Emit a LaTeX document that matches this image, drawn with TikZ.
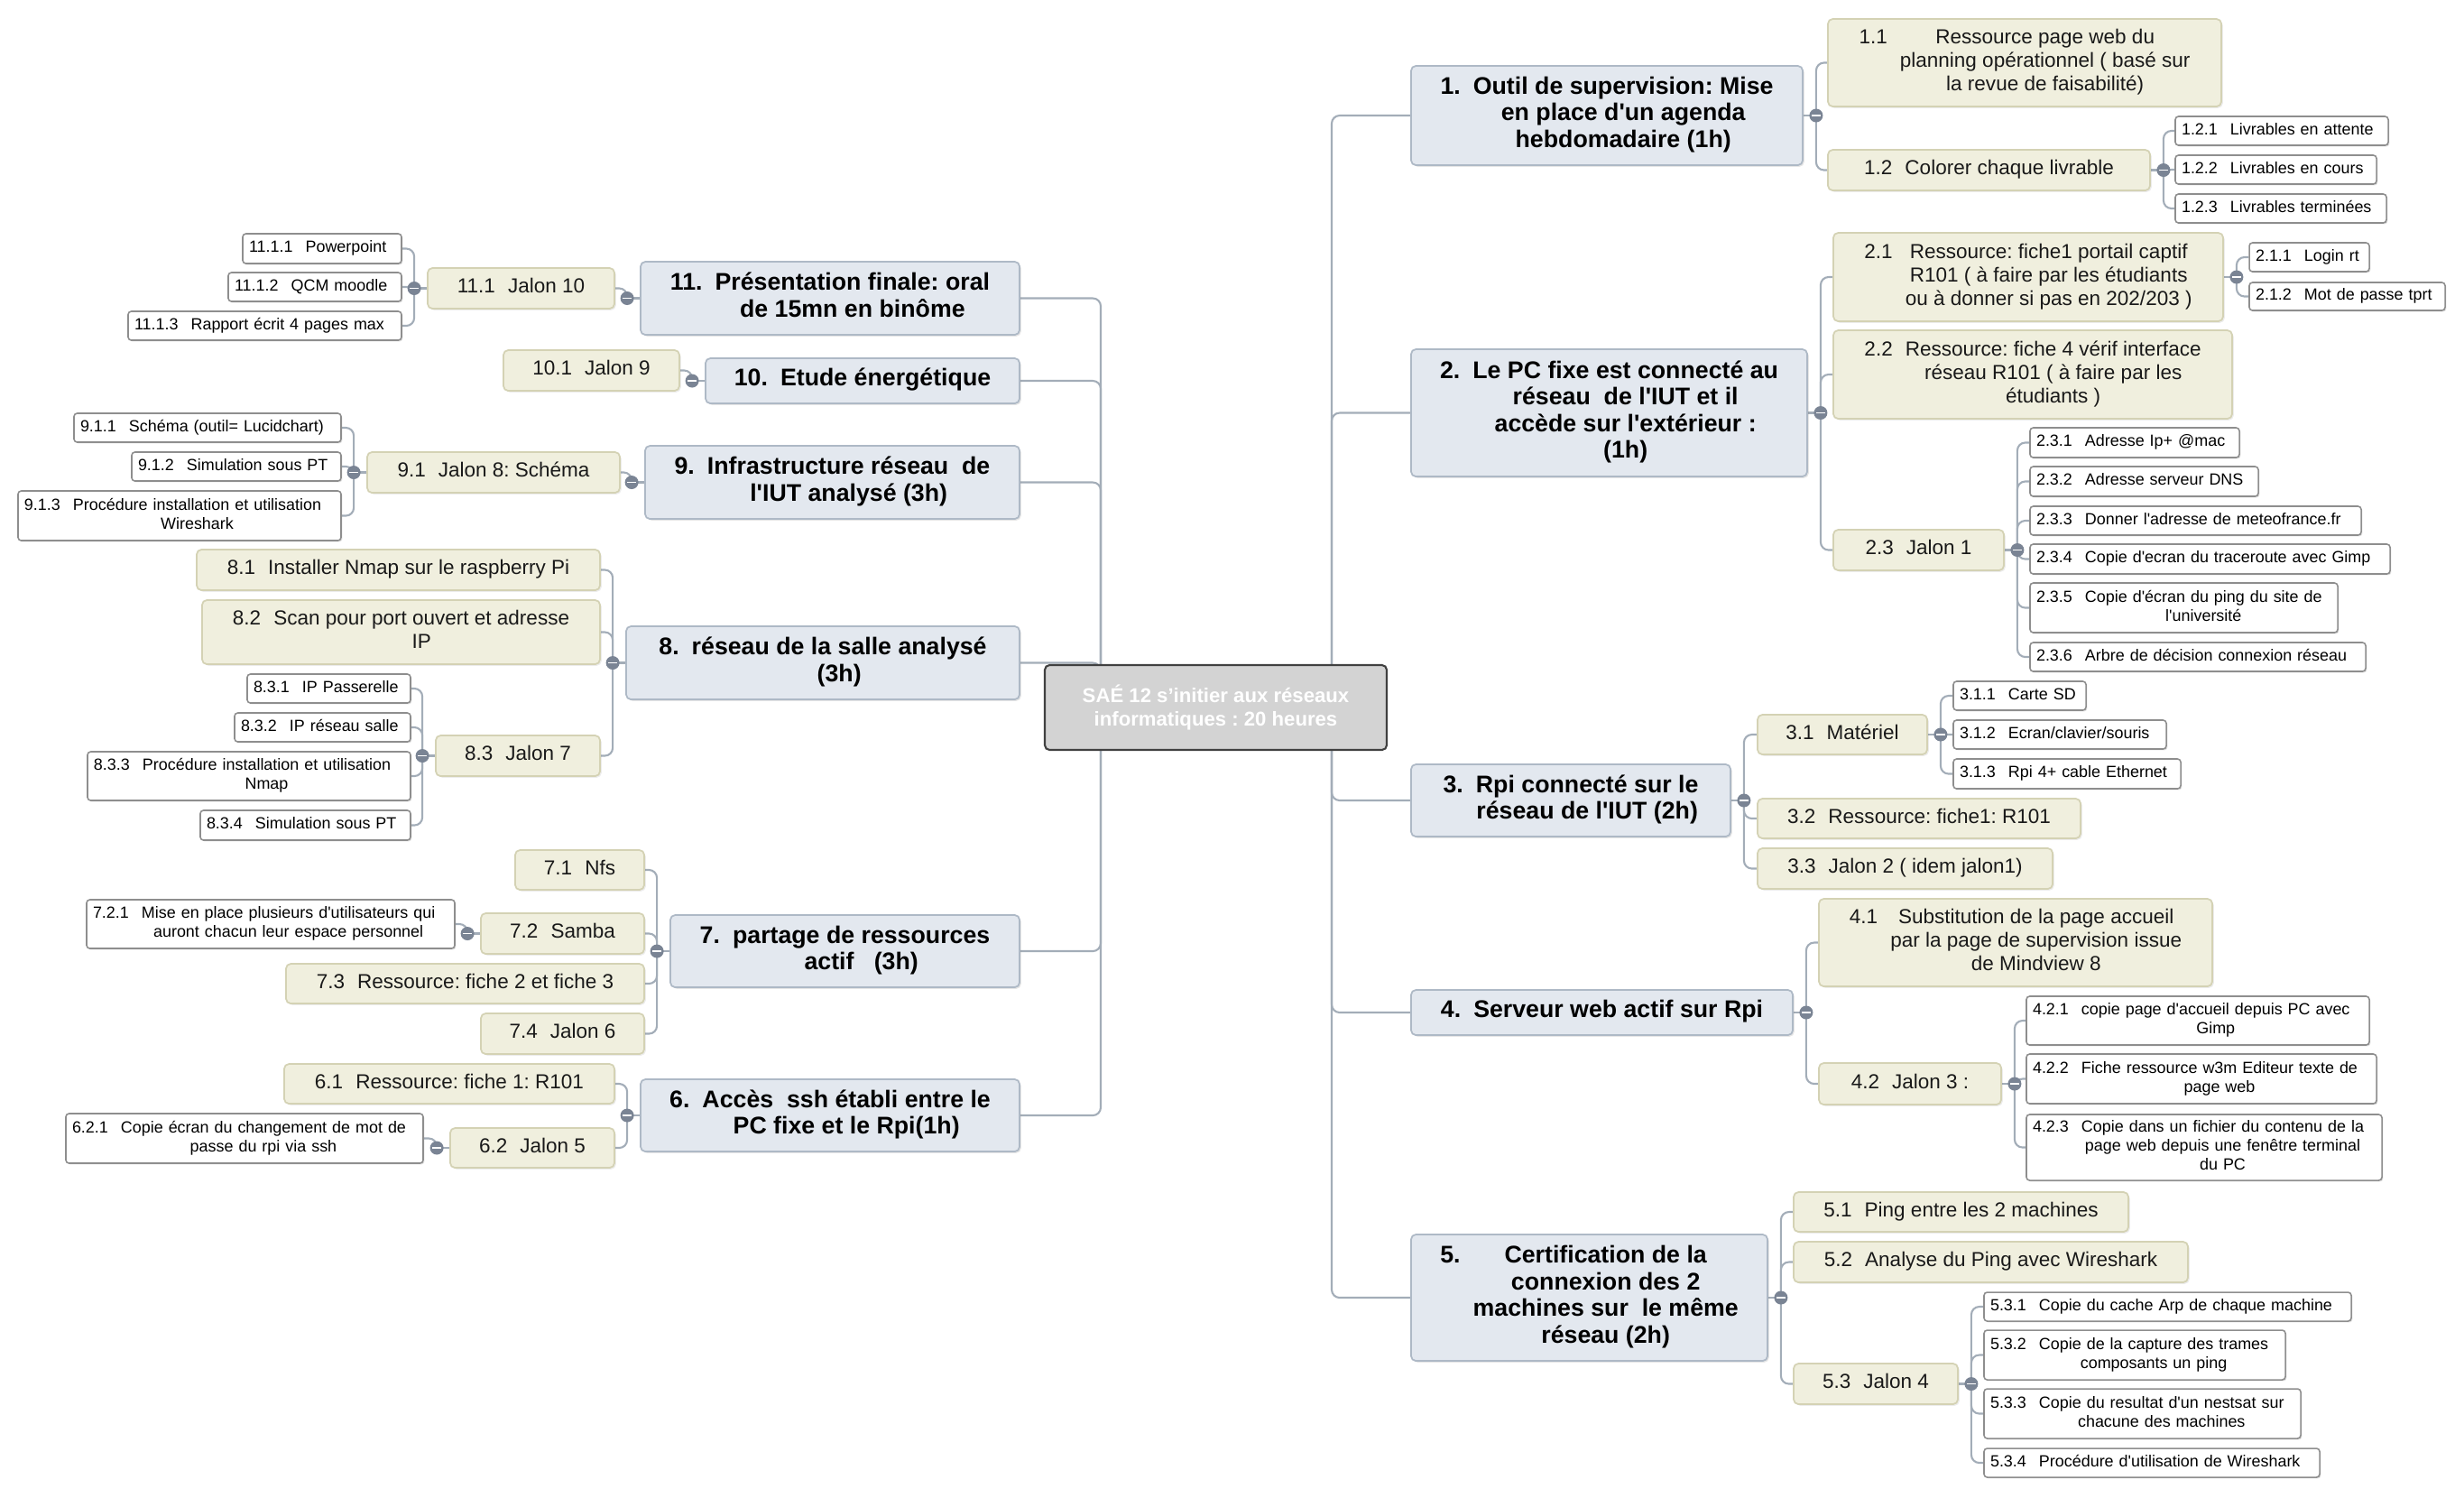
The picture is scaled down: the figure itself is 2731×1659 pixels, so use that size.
\documentclass[tikz,border=0pt]{standalone}
\usepackage{fontspec}
\setmainfont{Liberation Sans}[Ligatures=TeXOff]
\usetikzlibrary{shadows}
\definecolor{mainfill}{HTML}{E3E8EF}
\definecolor{mainborder}{HTML}{AEB9C6}
\definecolor{ltwofill}{HTML}{F0EFDE}
\definecolor{ltwoborder}{HTML}{D4D2B4}
\definecolor{lthreeborder}{HTML}{8E8E8E}
\definecolor{centerfill}{HTML}{D3D3D3}
\definecolor{centerborder}{HTML}{404040}
\definecolor{connc}{HTML}{A3ADB8}
\definecolor{collgray}{HTML}{7A8494}
\pgfdeclarelayer{bg}\pgfsetlayers{bg,main}
\frenchspacing
\newcommand\mmnum[2]{\mbox{\begin{tabular}[t]{@{}l@{}}#1\end{tabular}\kern4pt\begin{tabular}[t]{@{}c@{}}#2\end{tabular}}}
\newcommand\mmbox[7]{%
  \pgfmathsetmacro\bxw{(#5-#3)*0.01}%
  \pgfmathsetmacro\bxtw{(#5-#3)*0.01-0.14}%
  \pgfmathsetmacro\bxh{(#6-#4)*0.01}%
  \pgfmathsetmacro\bxcx{(#3+#5)/2}%
  \pgfmathsetmacro\bxcy{(#4+#6)/2}%
  \node[#1, minimum width=\bxw cm, minimum height=\bxh cm] (#2) at (\bxcx,\bxcy) {#7};}
\newcommand\fmain{\fontsize{7.6}{8.4}\selectfont\bfseries\frenchspacing}
\newcommand\ftwo{\fontsize{6.4}{7.4}\selectfont\frenchspacing}
\newcommand\fthree{\fontsize{5.1}{6.0}\selectfont\frenchspacing}
\newcommand\fcenter{\fontsize{6.3}{7.6}\selectfont\bfseries\frenchspacing}
\begin{document}
\begin{tikzpicture}[x=0.01cm,y=-0.01cm,
  mmmain/.style={draw=mainborder, fill=mainfill, line width=0.5pt, rounded corners=1.5pt, inner sep=0pt, font=\fmain, align=center,
     drop shadow={shadow xshift=0.5pt,shadow yshift=-0.5pt,opacity=0.2}},
  mmtwo/.style={draw=ltwoborder, fill=ltwofill, line width=0.5pt, rounded corners=1.5pt, inner sep=0pt, font=\ftwo, align=center, text=black!90,
     drop shadow={shadow xshift=0.5pt,shadow yshift=-0.5pt,opacity=0.15}},
  mmthree/.style={draw=lthreeborder, fill=white, line width=0.45pt, rounded corners=1pt, inner sep=0pt, font=\fthree, align=left, text width=\bxtw cm,
     drop shadow={shadow xshift=0.4pt,shadow yshift=-0.4pt,opacity=0.25}},
  mmcenter/.style={draw=centerborder, fill=centerfill, line width=0.6pt, rounded corners=1.5pt, inner sep=0pt, font=\fcenter, align=center, text=white},
  mmconn/.style={draw=connc, line width=0.6pt, rounded corners=2.5pt},
  mmcoll/.style={circle, fill=collgray, minimum size=0.15cm, inner sep=0pt,
     path picture={\draw[white, line width=0.5pt] ([xshift=-1.4pt]path picture bounding box.center) -- ([xshift=1.4pt]path picture bounding box.center);}}
]
\useasboundingbox (0,0) rectangle (2731,1659);

% center
\mmbox{mmcenter}{ctr}{1158}{737}{1537}{831}{SAÉ 12 s’initier aux réseaux\\informatiques : 20 heures}
\coordinate (lt) at (1220,784);
\coordinate (rt) at (1476,784);

% ---------- right side ----------
\mmbox{mmmain}{n1}{1564}{73}{1998}{183}{\mmnum{1.}{Outil de supervision: Mise\\en place d'un agenda\\hebdomadaire (1h)}}
\mmbox{mmtwo}{l11}{2026}{21}{2462}{118}{\mmnum{1.1}{Ressource page web du\\planning opérationnel ( basé sur\\la revue de faisabilité)}}
\mmbox{mmtwo}{l12}{2026}{166}{2383}{211}{\mmnum{1.2}{Colorer chaque livrable}}
\mmbox{mmthree}{l121}{2411}{129}{2647}{161}{\mmnum{1.2.1}{Livrables en attente}}
\mmbox{mmthree}{l122}{2411}{172}{2634}{204}{\mmnum{1.2.2}{Livrables en cours}}
\mmbox{mmthree}{l123}{2411}{215}{2645}{247}{\mmnum{1.2.3}{Livrables terminées}}

\mmbox{mmmain}{n2}{1564}{387}{2003}{528}{\mmnum{2.}{Le PC fixe est connecté au\\réseau\ \ de l'IUT et il\\accède sur l'extérieur :\\(1h)}}
\mmbox{mmtwo}{l21}{2032}{258}{2464}{356}{\mmnum{2.1}{Ressource: fiche1 portail captif\\R101 ( à faire par les étudiants\\ou à donner si pas en 202/203 )}}
\mmbox{mmthree}{l211}{2493}{269}{2626}{301}{\mmnum{2.1.1}{Login rt}}
\mmbox{mmthree}{l212}{2493}{313}{2710}{344}{\mmnum{2.1.2}{Mot de passe tprt}}
\mmbox{mmtwo}{l22}{2032}{366}{2474}{464}{\mmnum{2.2}{Ressource: fiche 4 vérif interface\\réseau R101 ( à faire par les\\étudiants )}}
\mmbox{mmtwo}{l23}{2032}{587}{2221}{632}{\mmnum{2.3}{Jalon 1}}
\mmbox{mmthree}{l231}{2250}{474}{2482}{507}{\mmnum{2.3.1}{Adresse Ip+ @mac}}
\mmbox{mmthree}{l232}{2250}{517}{2503}{550}{\mmnum{2.3.2}{Adresse serveur DNS}}
\mmbox{mmthree}{l233}{2250}{561}{2617}{593}{\mmnum{2.3.3}{Donner l'adresse de meteofrance.fr}}
\mmbox{mmthree}{l234}{2250}{603}{2649}{636}{\mmnum{2.3.4}{Copie d'ecran du traceroute avec Gimp}}
\mmbox{mmthree}{l235}{2250}{646}{2591}{701}{\mmnum{2.3.5}{Copie d'écran du ping du site de\\l'université}}
\mmbox{mmthree}{l236}{2250}{712}{2622}{744}{\mmnum{2.3.6}{Arbre de décision connexion réseau}}

\mmbox{mmmain}{n3}{1564}{847}{1918}{927}{\mmnum{3.}{Rpi connecté sur le\\réseau de l'IUT (2h)}}
\mmbox{mmtwo}{l31}{1948}{792}{2136}{836}{\mmnum{3.1}{Matériel}}
\mmbox{mmthree}{l311}{2165}{755}{2312}{787}{\mmnum{3.1.1}{Carte SD}}
\mmbox{mmthree}{l312}{2165}{798}{2401}{830}{\mmnum{3.1.2}{Ecran/clavier/souris}}
\mmbox{mmthree}{l313}{2165}{841}{2417}{874}{\mmnum{3.1.3}{Rpi 4+ cable Ethernet}}
\mmbox{mmtwo}{l32}{1948}{885}{2306}{929}{\mmnum{3.2}{Ressource: fiche1: R101}}
\mmbox{mmtwo}{l33}{1948}{940}{2275}{985}{\mmnum{3.3}{Jalon 2 ( idem jalon1)}}

\mmbox{mmmain}{n4}{1564}{1097}{1987}{1147}{\mmnum{4.}{Serveur web actif sur Rpi}}
\mmbox{mmtwo}{l41}{2016}{996}{2452}{1093}{\mmnum{4.1}{Substitution de la page accueil\\par la page de supervision issue\\de Mindview 8}}
\mmbox{mmtwo}{l42}{2016}{1178}{2218}{1224}{\mmnum{4.2}{Jalon 3 :}}
\mmbox{mmthree}{l421}{2246}{1104}{2626}{1158}{\mmnum{4.2.1}{copie page d'accueil depuis PC avec\\Gimp}}
\mmbox{mmthree}{l422}{2246}{1168}{2634}{1223}{\mmnum{4.2.2}{Fiche ressource w3m Editeur texte de\\page web}}
\mmbox{mmthree}{l423}{2246}{1235}{2640}{1308}{\mmnum{4.2.3}{Copie dans un fichier du contenu de la\\page web depuis une fenêtre terminal\\du PC}}

\mmbox{mmmain}{n5}{1564}{1368}{1959}{1508}{\mmnum{5.}{Certification de la\\connexion des 2\\machines sur\ \ le même\\réseau (2h)}}
\mmbox{mmtwo}{l51}{1988}{1321}{2359}{1365}{\mmnum{5.1}{Ping entre les 2 machines}}
\mmbox{mmtwo}{l52}{1988}{1376}{2425}{1421}{\mmnum{5.2}{Analyse du Ping avec Wireshark}}
\mmbox{mmtwo}{l53}{1988}{1511}{2170}{1556}{\mmnum{5.3}{Jalon 4}}
\mmbox{mmthree}{l531}{2199}{1432}{2606}{1464}{\mmnum{5.3.1}{Copie du cache Arp de chaque machine}}
\mmbox{mmthree}{l532}{2199}{1474}{2533}{1529}{\mmnum{5.3.2}{Copie de la capture des trames\\composants un ping}}
\mmbox{mmthree}{l533}{2199}{1539}{2550}{1594}{\mmnum{5.3.3}{Copie du resultat d'un nestsat sur\\chacune des machines}}
\mmbox{mmthree}{l534}{2199}{1605}{2571}{1637}{\mmnum{5.3.4}{Procédure d'utilisation de Wireshark}}

% ---------- left side ----------
\mmbox{mmmain}{n11}{710}{290}{1130}{371}{\mmnum{11.}{Présentation finale: oral\\de 15mn en binôme}}
\mmbox{mmtwo}{l111}{474}{297}{681}{342}{\mmnum{11.1}{Jalon 10}}
\mmbox{mmthree}{l1111}{269}{259}{445}{292}{\mmnum{11.1.1}{Powerpoint}}
\mmbox{mmthree}{l1112}{253}{302}{445}{334}{\mmnum{11.1.2}{QCM moodle}}
\mmbox{mmthree}{l1113}{142}{345}{445}{377}{\mmnum{11.1.3}{Rapport écrit 4 pages max}}

\mmbox{mmmain}{n10}{782}{397}{1130}{447}{\mmnum{10.}{Etude énergétique}}
\mmbox{mmtwo}{l101}{558}{388}{753}{433}{\mmnum{10.1}{Jalon 9}}

\mmbox{mmmain}{n9}{715}{494}{1130}{575}{\mmnum{9.}{Infrastructure réseau\ \ de\\l'IUT analysé (3h)}}
\mmbox{mmtwo}{l91}{407}{501}{687}{546}{\mmnum{9.1}{Jalon 8: Schéma}}
\mmbox{mmthree}{l911}{82}{458}{378}{490}{\mmnum{9.1.1}{Schéma (outil= Lucidchart)}}
\mmbox{mmthree}{l912}{146}{501}{378}{533}{\mmnum{9.1.2}{Simulation sous PT}}
\mmbox{mmthree}{l913}{20}{544}{378}{599}{\mmnum{9.1.3}{Procédure installation et utilisation\\Wireshark}}

\mmbox{mmmain}{n8}{694}{694}{1130}{775}{\mmnum{8.}{réseau de la salle analysé\\(3h)}}
\mmbox{mmtwo}{l81}{218}{609}{665}{654}{\mmnum{8.1}{Installer Nmap sur le raspberry Pi}}
\mmbox{mmtwo}{l82}{224}{665}{665}{736}{\mmnum{8.2}{Scan pour port ouvert et adresse\\IP}}
\mmbox{mmtwo}{l83}{483}{815}{665}{860}{\mmnum{8.3}{Jalon 7}}
\mmbox{mmthree}{l831}{274}{747}{455}{779}{\mmnum{8.3.1}{IP Passerelle}}
\mmbox{mmthree}{l832}{260}{790}{455}{822}{\mmnum{8.3.2}{IP réseau salle}}
\mmbox{mmthree}{l833}{97}{833}{455}{887}{\mmnum{8.3.3}{Procédure installation et utilisation\\Nmap}}
\mmbox{mmthree}{l834}{222}{898}{455}{931}{\mmnum{8.3.4}{Simulation sous PT}}

\mmbox{mmmain}{n7}{743}{1014}{1130}{1094}{\mmnum{7.}{partage de ressources\\actif\ \ \ (3h)}}
\mmbox{mmtwo}{l71}{571}{942}{714}{986}{\mmnum{7.1}{Nfs}}
\mmbox{mmtwo}{l72}{533}{1012}{714}{1057}{\mmnum{7.2}{Samba}}
\mmbox{mmthree}{l721}{96}{997}{504}{1051}{\mmnum{7.2.1}{Mise en place plusieurs d'utilisateurs qui\\auront chacun leur espace personnel}}
\mmbox{mmtwo}{l73}{317}{1068}{714}{1112}{\mmnum{7.3}{Ressource: fiche 2 et fiche 3}}
\mmbox{mmtwo}{l74}{533}{1123}{714}{1168}{\mmnum{7.4}{Jalon 6}}

\mmbox{mmmain}{n6}{710}{1196}{1130}{1276}{\mmnum{6.}{Accès\ \ ssh établi entre le\\PC fixe et le Rpi(1h)}}
\mmbox{mmtwo}{l61}{315}{1179}{681}{1223}{\mmnum{6.1}{Ressource: fiche 1: R101}}
\mmbox{mmtwo}{l62}{499}{1250}{681}{1294}{\mmnum{6.2}{Jalon 5}}
\mmbox{mmthree}{l621}{73}{1234}{469}{1289}{\mmnum{6.2.1}{Copie écran du changement de mot de\\passe du rpi via ssh}}

% ---------- collapse markers ----------
\foreach \n in {n1,l12,n2,l21,l23,n3,l31,n4,l42,n5,l53}
  \node[mmcoll] (c\n) at ([xshift=0.14cm]\n.east) {};
\foreach \n in {n11,l111,n10,n9,l91,n8,l83,n7,l72,n6,l62}
  \node[mmcoll] (c\n) at ([xshift=-0.14cm]\n.west) {};

% ---------- connectors ----------
\begin{pgfonlayer}{bg}
\foreach \n in {n1,n2,n3,n4,n5}
  \draw[mmconn] (rt) |- (\n.west);
\foreach \n in {n11,n10,n9,n8,n7,n6}
  \draw[mmconn] (lt) |- (\n.east);
\foreach \n in {n1,l12,n2,l21,l23,n3,l31,n4,l42,n5,l53}
  \draw[mmconn] (\n.east) -- (c\n.center);
\foreach \n in {n11,l111,n10,n9,l91,n8,l83,n7,l72,n6,l62}
  \draw[mmconn] (\n.west) -- (c\n.center);
\foreach \p/\c in {n1/l11,n1/l12,l12/l121,l12/l122,l12/l123,
    n2/l21,n2/l22,n2/l23,l21/l211,l21/l212,
    l23/l231,l23/l232,l23/l233,l23/l234,l23/l235,l23/l236,
    n3/l31,n3/l32,n3/l33,l31/l311,l31/l312,l31/l313,
    n4/l41,n4/l42,l42/l421,l42/l422,l42/l423,
    n5/l51,n5/l52,n5/l53,l53/l531,l53/l532,l53/l533,l53/l534}
  \draw[mmconn] (c\p.center) |- (\c.west);
\foreach \p/\c in {n11/l111,l111/l1111,l111/l1112,l111/l1113,
    n10/l101,n9/l91,l91/l911,l91/l912,l91/l913,
    n8/l81,n8/l82,n8/l83,l83/l831,l83/l832,l83/l833,l83/l834,
    n7/l71,n7/l72,n7/l73,n7/l74,l72/l721,
    n6/l61,n6/l62,l62/l621}
  \draw[mmconn] (c\p.center) |- (\c.east);
\end{pgfonlayer}
\end{tikzpicture}
\end{document}
